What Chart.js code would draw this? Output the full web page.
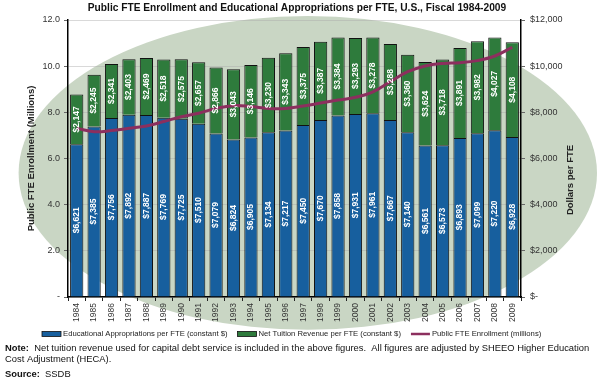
<!DOCTYPE html>
<html><head><meta charset="utf-8">
<script src="https://cdn.jsdelivr.net/npm/chart.js@4.4.0/dist/chart.umd.min.js"></script>
<style>html,body{margin:0;padding:0;background:#fff;}#wrap{position:relative;width:600px;height:380px;}</style>
</head><body><div id="wrap"><canvas id="c" width="600" height="380"></canvas></div>
<script>
const years = ['1984','1985','1986','1987','1988','1989','1990','1991','1992','1993','1994','1995','1996','1997','1998','1999','2000','2001','2002','2003','2004','2005','2006','2007','2008','2009'];
const appropriations = [6621,7385,7756,7892,7887,7769,7725,7510,7079,6824,6905,7134,7217,7450,7670,7858,7931,7961,7667,7140,6561,6573,6893,7099,7220,6928];
const tuition = [2147,2245,2341,2403,2469,2518,2575,2657,2866,3043,3146,3230,3343,3375,3387,3384,3293,3278,3288,3360,3624,3718,3891,3982,4027,4108];
const enrollment = [7.31,7.16,7.21,7.31,7.41,7.60,7.81,7.96,8.17,8.29,8.25,8.17,8.17,8.27,8.40,8.53,8.65,8.89,9.33,9.76,10.01,10.12,10.15,10.24,10.44,10.82];
const enrollmentTicks = [0,2,4,6,8,10,12];
const dollarTicks = [0,2000,4000,6000,8000,10000,12000];

const titleText = 'Public FTE Enrollment and Educational Appropriations per FTE, U.S., Fiscal 1984-2009';
const leftTitle = 'Public FTE Enrollment (Millions)';
const rightTitle = 'Dollars per FTE';
const seriesNames = ['Educational Appropriations per FTE (constant $)','Net Tuition Revenue per FTE (constant $)','Public FTE Enrollment (millions)'];
const noteText = '  Net tuition revenue used for capital debt service is included in the above figures.  All figures are adjusted by SHEEO Higher Education';
const noteText2 = 'Cost Adjustment (HECA).';
const sourceText = '  SSDB';

const FF = "'Liberation Sans', Arial, sans-serif";
const BLUE = '#175f9e', GREEN = '#2e7b3c', LINE = '#8c2f5e';
Chart.defaults.font.family = FF;

const fmtDollar = v => '$' + v.toLocaleString('en-US');

const bgPlugin = {
  id: 'bg',
  beforeDraw(chart) {
    const ctx = chart.ctx, w = chart.width, h = chart.height;
    ctx.save();
    ctx.fillStyle = '#fff'; ctx.fillRect(0, 0, w, h);
    ctx.beginPath();
    ctx.ellipse(w * 0.513, h * 0.455, w * 0.482, h * 0.413, 0, 0, Math.PI * 2);
    ctx.fillStyle = '#c9d6c4';
    ctx.fill();
    ctx.restore();
  }
};

const labelPlugin = {
  id: 'barLabels',
  afterDatasetsDraw(chart) {
    const ctx = chart.ctx;
    ctx.save();
    ctx.fillStyle = '#fff';
    ctx.font = 'bold 8.5px ' + FF;
    ctx.textAlign = 'center'; ctx.textBaseline = 'middle';
    [1, 2].forEach(di => {
      const meta = chart.getDatasetMeta(di);
      const vals = chart.data.datasets[di].data;
      meta.data.forEach((bar, j) => {
        const p = bar.getProps(['x', 'y', 'base'], true);
        ctx.save();
        ctx.translate(p.x, (p.y + p.base) / 2);
        ctx.rotate(-Math.PI / 2);
        ctx.fillText(fmtDollar(vals[j]), 0, 0);
        ctx.restore();
      });
    });
    ctx.restore();
  },
  afterDraw(chart) {
    const ctx = chart.ctx, ca = chart.chartArea;
    ctx.save();
    // title
    ctx.fillStyle = '#111';
    ctx.font = 'bold 10.2px ' + FF;
    ctx.textAlign = 'center'; ctx.textBaseline = 'middle';
    ctx.fillText(titleText, 297, 8);
    // right axis title
    ctx.save();
    ctx.translate(570, 180);
    ctx.rotate(-Math.PI / 2);
    ctx.font = 'bold 9.5px ' + FF;
    ctx.fillStyle = '#222';
    ctx.fillText(rightTitle, 0, 0);
    ctx.restore();
    // legend
    ctx.font = '7.7px ' + FF;
    ctx.textAlign = 'left';
    let x = 42; const ly = 334;
    const items = [{c: BLUE, t: 'box'}, {c: GREEN, t: 'box'}, {c: LINE, t: 'line'}];
    items.forEach((it, i) => {
      if (it.t === 'box') {
        ctx.fillStyle = it.c; ctx.fillRect(x, ly - 2.5, 19, 5);
        ctx.strokeStyle = '#111'; ctx.lineWidth = 0.8; ctx.strokeRect(x, ly - 2.5, 19, 5);
      } else {
        ctx.strokeStyle = it.c; ctx.lineWidth = 2.5;
        ctx.beginPath(); ctx.moveTo(x, ly); ctx.lineTo(x + 19, ly); ctx.stroke();
      }
      x += 21;
      ctx.fillStyle = '#222';
      ctx.fillText(seriesNames[i], x, ly);
      x += ctx.measureText(seriesNames[i]).width + 10;
    });
    // notes
    ctx.fillStyle = '#111';
    ctx.font = 'bold 9.4px ' + FF;
    ctx.fillText('Note:', 5, 348);
    let w = ctx.measureText('Note:').width;
    ctx.font = '9.4px ' + FF;
    ctx.fillText(noteText, 5 + w, 348);
    ctx.fillText(noteText2, 5, 359);
    ctx.font = 'bold 9.4px ' + FF;
    ctx.fillText('Source:', 5, 374);
    w = ctx.measureText('Source:').width;
    ctx.font = '9.4px ' + FF;
    ctx.fillText(sourceText, 5 + w, 374);
    ctx.restore();
  }
};

new Chart(document.getElementById('c'), {
  data: {
    labels: years,
    datasets: [
      {type: 'line', label: seriesNames[2], data: enrollment, yAxisID: 'y', borderColor: LINE, borderWidth: 3, pointRadius: 0, tension: 0.4, order: 0},
      {type: 'bar', label: seriesNames[0], data: appropriations, yAxisID: 'yR', backgroundColor: BLUE, borderColor: '#111', borderWidth: 1, stack: 's', order: 1, barPercentage: 0.76, categoryPercentage: 1},
      {type: 'bar', label: seriesNames[1], data: tuition, yAxisID: 'yR', backgroundColor: GREEN, borderColor: '#111', borderWidth: 1, stack: 's', order: 1, barPercentage: 0.76, categoryPercentage: 1}
    ]
  },
  options: {
    responsive: false,
    animation: false,
    layout: {padding: {top: 20, left: 0, right: 0, bottom: 48}},
    plugins: {legend: {display: false}, title: {display: false}, tooltip: {enabled: false}},
    scales: {
      x: {
        stacked: true, offset: true,
        grid: {offset: true, drawOnChartArea: false, tickLength: 4, color: '#222'},
        border: {color: '#000', width: 1.5},
        ticks: {minRotation: 90, maxRotation: 90, font: {size: 8.5}, color: '#333', padding: 2},
        afterFit: s => { s.height = 35; }
      },
      y: {
        position: 'left', min: 0, max: 12,
        afterBuildTicks: s => { s.ticks = enrollmentTicks.map(v => ({value: v})); },
        ticks: {callback: v => v === 0 ? '-' : v.toFixed(1), font: {size: 9}, color: '#333', padding: 4},
        grid: {color: 'rgba(170,170,170,0.45)', tickLength: 4, tickColor: '#666'},
        border: {color: '#000', width: 1.5},
        title: {display: true, text: leftTitle, font: {size: 9.5, weight: 'bold'}, color: '#222', padding: {top: 26, bottom: 0}},
        afterFit: s => { s.width = 68; }
      },
      yR: {
        position: 'right', min: 0, max: 12000, stacked: true,
        afterBuildTicks: s => { s.ticks = dollarTicks.map(v => ({value: v})); },
        ticks: {callback: v => v === 0 ? '$-' : fmtDollar(v), font: {size: 9}, color: '#333', padding: 5},
        grid: {drawOnChartArea: false, tickLength: 4, tickColor: '#666'},
        border: {color: '#000', width: 1.5},
        afterFit: s => { s.width = 79; }
      }
    }
  },
  plugins: [bgPlugin, labelPlugin]
});
</script></body></html>
